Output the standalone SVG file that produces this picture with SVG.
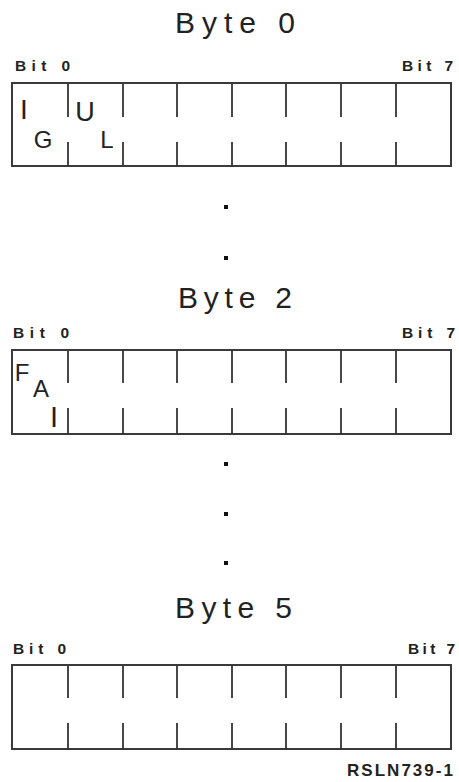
<svg xmlns="http://www.w3.org/2000/svg" width="459" height="782" viewBox="0 0 459 782">
<style>
.title{font-family:"Liberation Sans",Arial,sans-serif;font-size:30px;fill:#222;}
.bit{font-family:"Liberation Sans",Arial,sans-serif;font-size:15.5px;font-weight:bold;fill:#222;}
.fl{font-family:"Liberation Sans",Arial,sans-serif;fill:#222;text-anchor:middle;}
.box{fill:none;stroke:#3a3a3a;stroke-width:2;}
.tick{stroke:#333;stroke-width:1.8;}
.dot{fill:#111;}
.code{font-family:"Liberation Sans",Arial,sans-serif;font-size:17px;font-weight:bold;fill:#222;}
</style>
<rect width="459" height="782" fill="#fff"/>

<g id="byte0">
<text class="title" x="175" y="33" textLength="120" lengthAdjust="spacing">Byte 0</text>
<text class="bit" x="15" y="71" textLength="55" lengthAdjust="spacing">Bit 0</text>
<text class="bit" x="402" y="71" textLength="51" lengthAdjust="spacing">Bit 7</text>
<rect class="box" x="12" y="83" width="439" height="83"/>
<g class="tick">
<line x1="68" y1="84" x2="68" y2="117"/><line x1="123" y1="84" x2="123" y2="117"/><line x1="177" y1="84" x2="177" y2="117"/><line x1="232" y1="84" x2="232" y2="117"/><line x1="286" y1="84" x2="286" y2="117"/><line x1="341" y1="84" x2="341" y2="117"/><line x1="396" y1="84" x2="396" y2="117"/>
<line x1="68" y1="142" x2="68" y2="166"/><line x1="123" y1="142" x2="123" y2="166"/><line x1="177" y1="142" x2="177" y2="166"/><line x1="232" y1="142" x2="232" y2="166"/><line x1="286" y1="142" x2="286" y2="166"/><line x1="341" y1="142" x2="341" y2="166"/><line x1="396" y1="142" x2="396" y2="166"/>
</g>
<text class="fl" x="24" y="119" font-size="28">I</text>
<text class="fl" x="85" y="121" font-size="27">U</text>
<text class="fl" x="43" y="148" font-size="24">G</text>
<text class="fl" x="107" y="148" font-size="24">L</text>
</g>

<g id="connectors">
<rect class="dot" x="224" y="205" width="4" height="4"/>
<rect class="dot" x="224" y="256" width="4" height="4"/>
<rect class="dot" x="224" y="462" width="4" height="4"/>
<rect class="dot" x="224" y="512" width="4" height="4"/>
<rect class="dot" x="224" y="561" width="4" height="4"/>
</g>

<g id="byte2">
<text class="title" x="178" y="308" textLength="114" lengthAdjust="spacing">Byte 2</text>
<text class="bit" x="13" y="338" textLength="56" lengthAdjust="spacing">Bit 0</text>
<text class="bit" x="402" y="338" textLength="53" lengthAdjust="spacing">Bit 7</text>
<rect class="box" x="12" y="350" width="439" height="84"/>
<g class="tick">
<line x1="68" y1="351" x2="68" y2="383"/><line x1="123" y1="351" x2="123" y2="383"/><line x1="177" y1="351" x2="177" y2="383"/><line x1="232" y1="351" x2="232" y2="383"/><line x1="286" y1="351" x2="286" y2="383"/><line x1="341" y1="351" x2="341" y2="383"/><line x1="396" y1="351" x2="396" y2="383"/>
<line x1="68" y1="408" x2="68" y2="434"/><line x1="123" y1="408" x2="123" y2="434"/><line x1="177" y1="408" x2="177" y2="434"/><line x1="232" y1="408" x2="232" y2="434"/><line x1="286" y1="408" x2="286" y2="434"/><line x1="341" y1="408" x2="341" y2="434"/><line x1="396" y1="408" x2="396" y2="434"/>
</g>
<text class="fl" x="22" y="381" font-size="24">F</text>
<text class="fl" x="41" y="397" font-size="24">A</text>
<text class="fl" x="54" y="427" font-size="29">I</text>
</g>

<g id="byte5">
<text class="title" x="175" y="618" textLength="117" lengthAdjust="spacing">Byte 5</text>
<text class="bit" x="13" y="654" textLength="53" lengthAdjust="spacing">Bit 0</text>
<text class="bit" x="408" y="654" textLength="47" lengthAdjust="spacing">Bit 7</text>
<rect class="box" x="12" y="665" width="439" height="84"/>
<g class="tick">
<line x1="68" y1="666" x2="68" y2="698"/><line x1="123" y1="666" x2="123" y2="698"/><line x1="177" y1="666" x2="177" y2="698"/><line x1="232" y1="666" x2="232" y2="698"/><line x1="286" y1="666" x2="286" y2="698"/><line x1="341" y1="666" x2="341" y2="698"/><line x1="396" y1="666" x2="396" y2="698"/>
<line x1="68" y1="723" x2="68" y2="749"/><line x1="123" y1="723" x2="123" y2="749"/><line x1="177" y1="723" x2="177" y2="749"/><line x1="232" y1="723" x2="232" y2="749"/><line x1="286" y1="723" x2="286" y2="749"/><line x1="341" y1="723" x2="341" y2="749"/><line x1="396" y1="723" x2="396" y2="749"/>
</g>
</g>

<text class="code" x="347" y="776" textLength="106" lengthAdjust="spacing">RSLN739-1</text>
</svg>
